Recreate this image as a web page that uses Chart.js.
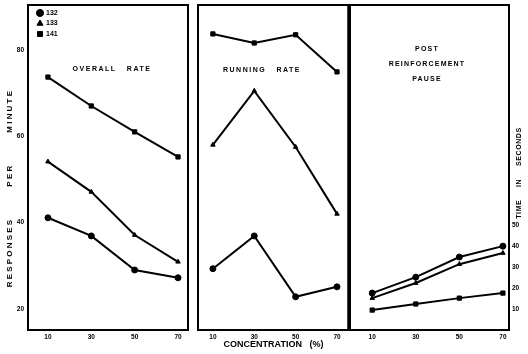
<!DOCTYPE html>
<html>
<head>
<meta charset="utf-8">
<script src="https://cdn.jsdelivr.net/npm/chart.js@4.4.1/dist/chart.umd.min.js"></script>
<style>
  body { margin: 0; background: #fff; }
  #wrap { position: relative; width: 528px; height: 354px; overflow: hidden; background: #fff; }
  #wrap canvas { position: absolute; top: 0; }
</style>
</head>
<body>
<div id="wrap">
  <canvas id="overall" width="190" height="354" style="left:0"></canvas>
  <canvas id="running" width="162" height="354" style="left:190px"></canvas>
  <canvas id="pause" width="179" height="354" style="left:349px"></canvas>
</div>
<script>
// Concentration (%) on the x axis of every panel
const concentrations = [10, 30, 50, 70];
const subjects = ['132', '133', '141'];

// Responses per minute
const overall132 = [41.1, 36.9, 29.0, 27.2];
const overall133 = [54.1, 47.1, 37.1, 30.9];
const overall141 = [73.7, 67.0, 61.0, 55.2];
const running132 = [29.3, 36.9, 22.8, 25.1];
const running133 = [58.0, 70.5, 57.5, 42.0];
const running141 = [83.7, 81.6, 83.5, 74.9];

// Post reinforcement pause, time in seconds
const pause132 = [17.6, 25.2, 34.8, 40.0];
const pause133 = [15.2, 22.4, 31.4, 36.7];
const pause141 = [9.5, 12.4, 15.2, 17.6];

const rateTicks = [20, 40, 60, 80];
const pauseTicks = [10, 20, 30, 40, 50];

Chart.defaults.font.family = '"Liberation Sans", Arial, sans-serif';
Chart.defaults.color = '#000';

const tickFont = { size: 6.5, weight: 'bold' };
const markers = { '132': ['circle', 3], '133': ['triangle', 2.6], '141': ['rect', 3] };

function serie(label, values) {
  return {
    label: label,
    data: values.map((v, i) => ({ x: concentrations[i], y: v })),
    borderColor: '#000',
    backgroundColor: '#000',
    borderWidth: 2,
    pointStyle: markers[label][0],
    pointRadius: markers[label][1],
    pointBorderWidth: 1,
    tension: 0
  };
}

// texto libre: títulos de panel y de ejes verticales
const textPlugin = {
  id: 'texts',
  afterDraw(chart, args, opts) {
    const ctx = chart.ctx;
    (opts.items || []).forEach(it => {
      ctx.save();
      ctx.font = 'bold ' + (it.size || 7) + 'px "Liberation Sans", Arial, sans-serif';
      ctx.letterSpacing = (it.spacing || 0) + 'px';
      ctx.fillStyle = '#000';
      ctx.textAlign = 'center';
      ctx.textBaseline = 'middle';
      ctx.translate(it.x, it.y);
      if (it.rotate) ctx.rotate(it.rotate * Math.PI / 180);
      const lines = [].concat(it.text);
      lines.forEach((l, i) => {
        ctx.fillText(l, 0, (i - (lines.length - 1) / 2) * (it.lineHeight || 10));
      });
      ctx.restore();
    });
  }
};

// marco negro alrededor del área del gráfico
const framePlugin = {
  id: 'frame',
  beforeDatasetsDraw(chart, args, opts) {
    const { left, top, right, bottom } = chart.chartArea;
    const ctx = chart.ctx;
    ctx.save();
    ctx.strokeStyle = '#000';
    ctx.lineWidth = opts.width || 2;
    ctx.strokeRect(left, top, right - left, bottom - top);
    if (opts.rightWidth) {
      ctx.lineWidth = opts.rightWidth;
      ctx.beginPath();
      ctx.moveTo(right, top - 1);
      ctx.lineTo(right, bottom + 1);
      ctx.stroke();
    }
    ctx.restore();
  }
};

// la leyenda en 'chartArea' queda pegada arriba; se baja un poco
const legendShift = {
  id: 'legendShift',
  afterLayout(chart) {
    if (chart.legend) {
      chart.legend.left = chart.chartArea.left + 6;
      chart.legend.top = chart.chartArea.top + 1;
    }
  }
};

function noPadding(s) {
  s.paddingTop = 0;
  s.paddingBottom = 0;
  s.paddingLeft = 0;
  s.paddingRight = 0;
}

function xScale(min, max, title) {
  return {
    type: 'linear',
    min: min,
    max: max,
    afterBuildTicks: s => { s.ticks = concentrations.map(v => ({ value: v })); },
    afterFit: s => { s.height = 24; noPadding(s); },
    grid: { display: false, drawTicks: false },
    border: { display: false },
    ticks: { font: tickFont, padding: 3, maxRotation: 0, autoSkip: false },
    title: title ? {
      display: true, text: title, font: { size: 9, weight: 'bold' },
      padding: { top: 0, bottom: 4 }
    } : { display: false }
  };
}

const common = {
  responsive: false,
  animation: false,
  events: []
};

new Chart(document.getElementById('overall'), {
  type: 'line',
  data: { datasets: [serie('132', overall132), serie('133', overall133), serie('141', overall141)] },
  plugins: [textPlugin, framePlugin, legendShift],
  options: Object.assign({}, common, {
    layout: { autoPadding: false, padding: { top: 5, right: 2, left: 0, bottom: 0 } },
    scales: {
      x: xScale(0.8, 74.6),
      y: {
        min: 15.1,
        max: 90.4,
        afterBuildTicks: s => { s.ticks = rateTicks.map(v => ({ value: v })); },
        afterFit: s => { s.width = 28; noPadding(s); },
        grid: { display: false, drawTicks: false },
        border: { display: false },
        ticks: { font: tickFont, padding: 4 }
      }
    },
    plugins: {
      legend: {
        display: true,
        position: 'chartArea',
        align: 'start',
        labels: {
          usePointStyle: true, boxWidth: 5, boxHeight: 5, padding: 3.5,
          font: { size: 7, weight: 'bold' }, color: '#000'
        }
      },
      tooltip: { enabled: false },
      frame: { width: 2 },
      texts: {
        items: [
          { text: 'OVERALL   RATE', x: 112, y: 69, size: 7, spacing: 1.5 },
          { text: 'RESPONSES       PER       MINUTE', x: 10, y: 188, size: 8, spacing: 2.2, rotate: -90 }
        ]
      }
    }
  })
});

new Chart(document.getElementById('running'), {
  type: 'line',
  data: { datasets: [serie('132', running132), serie('133', running133), serie('141', running141)] },
  plugins: [textPlugin, framePlugin],
  options: Object.assign({}, common, {
    layout: { autoPadding: false, padding: { top: 5, right: 3, left: 8, bottom: 0 } },
    scales: {
      x: xScale(2.8, 75.8, 'CONCENTRATION   (%)'),
      y: { display: false, min: 15.1, max: 90.4 }
    },
    plugins: {
      legend: { display: false },
      tooltip: { enabled: false },
      frame: { width: 2, rightWidth: 3.5 },
      texts: {
        items: [
          { text: 'RUNNING   RATE', x: 72, y: 70, size: 7, spacing: 1.5 }
        ]
      }
    }
  })
});

new Chart(document.getElementById('pause'), {
  type: 'line',
  data: { datasets: [serie('132', pause132), serie('133', pause133), serie('141', pause141)] },
  plugins: [textPlugin, framePlugin],
  options: Object.assign({}, common, {
    layout: { autoPadding: false, padding: { top: 5, right: 0, left: 1, bottom: 0 } },
    scales: {
      x: xScale(-0.2, 72.8),
      y: {
        position: 'right',
        min: 0,
        max: 155,
        afterBuildTicks: s => { s.ticks = pauseTicks.map(v => ({ value: v })); },
        afterFit: s => { s.width = 19; noPadding(s); },
        grid: { display: false, drawTicks: false },
        border: { display: false },
        ticks: { font: tickFont, padding: 3 }
      }
    },
    plugins: {
      legend: { display: false },
      tooltip: { enabled: false },
      frame: { width: 2 },
      texts: {
        items: [
          { text: ['POST', 'REINFORCEMENT', 'PAUSE'], x: 78, y: 64, size: 7, spacing: 1.2, lineHeight: 15 },
          { text: 'TIME     IN     SECONDS', x: 170, y: 173, size: 7, spacing: 0.6, rotate: -90 }
        ]
      }
    }
  })
});
</script>
</body>
</html>
